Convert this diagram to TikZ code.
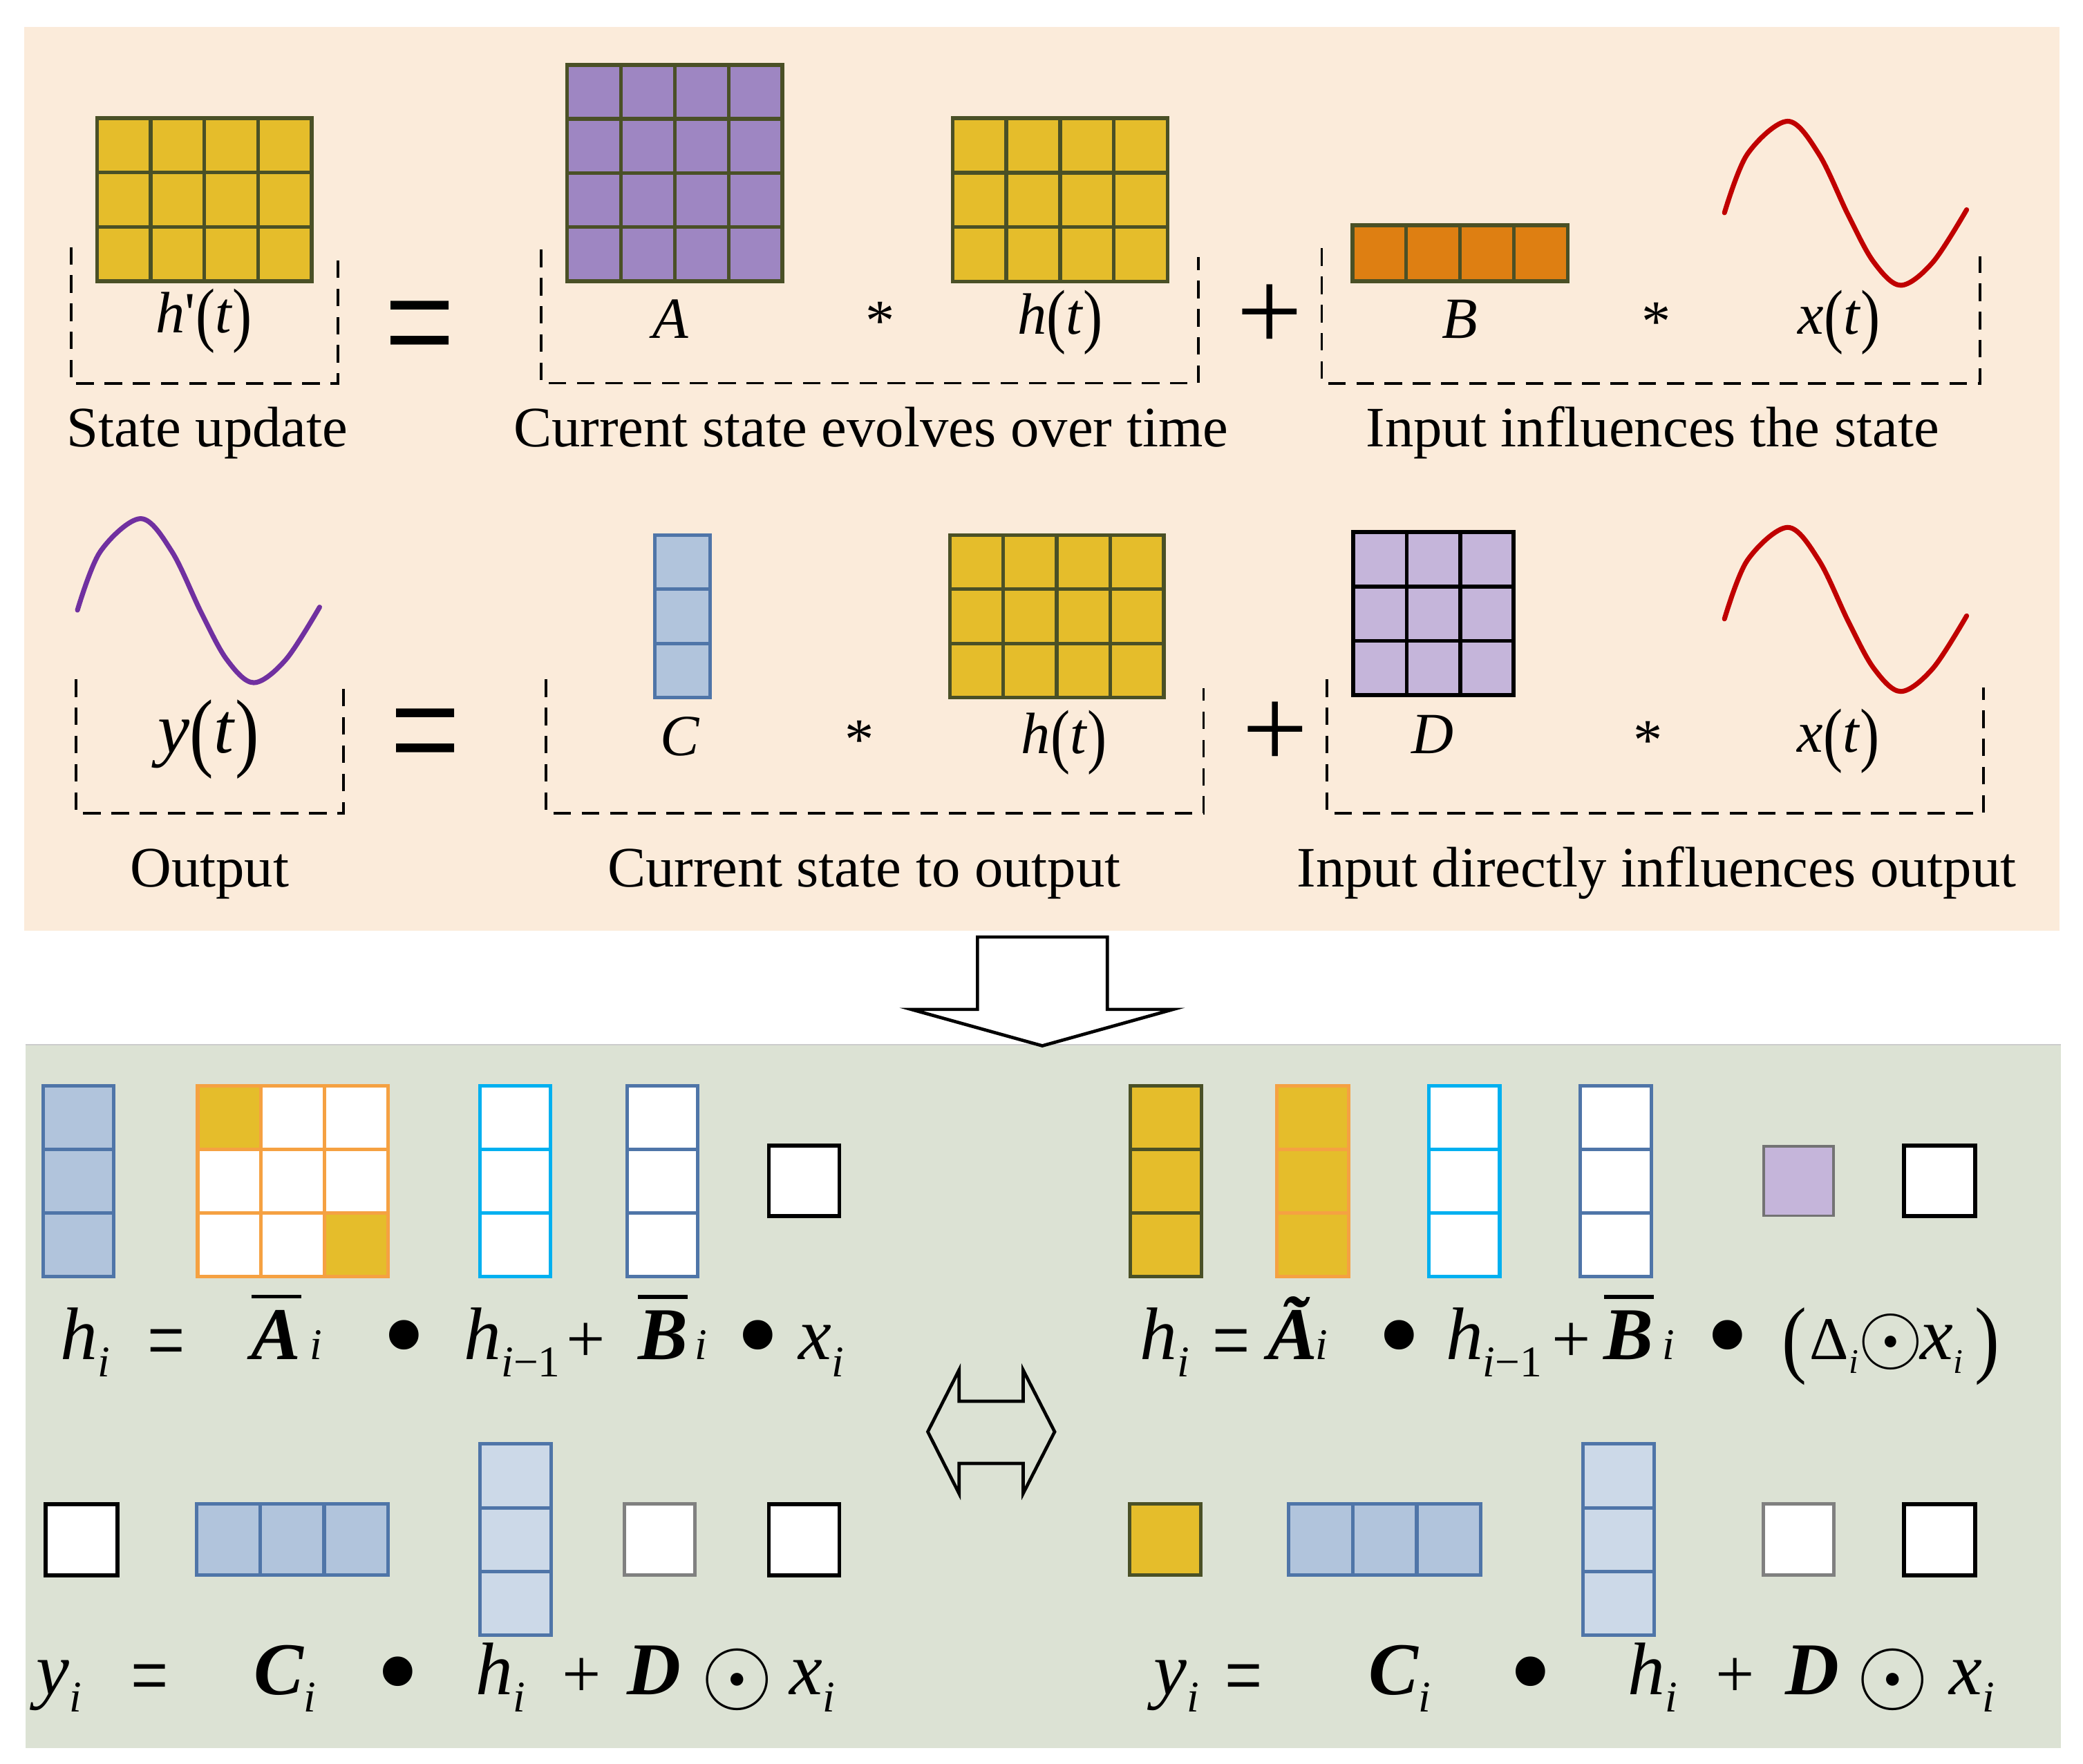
\documentclass[tikz,border=0pt]{standalone}
\usepackage{fontspec}
\setmainfont{Liberation Serif}
\usepackage{graphicx}
\definecolor{peach}{HTML}{FBEBDA}
\definecolor{sage}{HTML}{DCE2D4}
\definecolor{gold}{HTML}{E5BD2B}
\definecolor{olive}{HTML}{4A5026}
\definecolor{violetA}{HTML}{9E86C2}
\definecolor{orangeB}{HTML}{DE7F12}
\definecolor{steel}{HTML}{B1C4DC}
\definecolor{steeldk}{HTML}{4F75A8}
\definecolor{lavD}{HTML}{C5B5DA}
\definecolor{waveR}{HTML}{C00000}
\definecolor{waveP}{HTML}{7030A0}
\definecolor{amber}{HTML}{F5A142}
\definecolor{cyanB}{HTML}{00B0F0}
\definecolor{pale}{HTML}{CCD9E8}
\newcommand\fLab{\fontsize{24.5}{29}\selectfont}
\newcommand\fMath{\fontsize{25}{30}\selectfont}
\newcommand\fY{\fontsize{30.7}{36}\selectfont}
\newcommand\fEq{\fontsize{31.9}{38}\selectfont}
\newcommand\fSub{\fontsize{18.8}{22}\selectfont}
\newcommand\fTiny{\fontsize{14.8}{18}\selectfont}
\newcommand\LP{\raisebox{-0.1em}{\scalebox{1}[1.22]{(}}}
\newcommand\RP{\raisebox{-0.1em}{\scalebox{1}[1.22]{)}}}
\newcommand\lo[1]{\raisebox{-7.4pt}{\fSub\itshape #1}}
\newcommand\ovbar[1]{\leavevmode\vbox{\hrule height 1.6pt\kern 5pt\hbox{#1}}}
\newcommand\bi[1]{{\bfseries\itshape #1}}
\newcommand\circdotsym{\makebox[0.6cm][c]{\scalebox{1.6}{$\odot$}}}
\newcommand\circdotsm{\makebox[0.52cm][c]{\scalebox{1.45}{$\odot$}}}
% grid: x0 y0 w h cols rows fillopts drawcolor linewidth
\newcommand\gridbox[9]{%
  \path[#7] (#1,#2) rectangle ++(#3,#4);
  \foreach \i in {1,...,#5}{\foreach \j in {1,...,#6}{%
    \draw[#8,line width=#9] ({#1+(\i-1)*#3/#5},{#2+(\j-1)*#4/#6}) rectangle ++({#3/#5},{#4/#6});}}}
\tikzset{
  lab/.style={anchor=base,inner sep=0pt,font=\fLab},
  mth/.style={anchor=base,inner sep=0pt,font=\fMath},
  eqp/.style={anchor=base west,inner sep=0pt,font=\fEq},
  dotop/.style={anchor=base,inner sep=0pt,font=\fontsize{53}{56}\selectfont},
  plusop/.style={anchor=base,inner sep=0pt,font=\fontsize{29.6}{34}\selectfont},
  eqop/.style={anchor=base,inner sep=0pt,font=\fontsize{28.5}{32}\selectfont},
  odot/.style={anchor=base,inner sep=0pt,font=\fontsize{26.5}{30}\selectfont},
  brk/.style={line width=1.1pt,dash pattern=on 7.5pt off 4.6pt},
  blk/.style={draw=black,fill=white,line width=1.7pt},
  bigarrow/.style={draw=black,line width=1.4pt,line join=miter},
  wave/.pic={\draw[line width=2.1pt,line cap=round,pic actions] plot[smooth,tension=0.55] coordinates {(0,0) (17.2,-44.1) (47.6,-68.9) (71.1,-44.1) (93.4,2.3) (112.4,37.2) (132.7,54.6) (156.9,37.2) (182.3,-2.3)};}
}
\begin{document}
\begin{tikzpicture}[x=0.02cm,y=-0.02cm]
\useasboundingbox (0,0) rectangle (1568,1328);
\fill[white] (0,0) rectangle (1568,1328);
% panels
\fill[peach] (18.2,20.5) rectangle (1550.2,701);
\fill[sage] (19.4,786.7) rectangle (1551.4,1316);
\draw[gray!40,line width=0.6pt] (19.4,786.7) -- (1551.4,786.7);

% ---------- top panel, row 1 ----------
\gridbox{73}{89}{161.7}{122.8}{4}{3}{fill=gold}{olive}{1.6pt}
\gridbox{427}{48.8}{162}{163}{4}{4}{fill=violetA}{olive}{1.6pt}
\gridbox{717}{89}{162}{123}{4}{3}{fill=gold}{olive}{1.6pt}
\gridbox{1018}{169.5}{162}{42.3}{4}{1}{fill=orangeB}{olive}{1.6pt}
\pic[draw=waveR] at (1298.1,160.2) {wave};

\draw[brk] (53.7,186) -- (53.7,288.6) -- (254.4,288.6) -- (254.4,193);
\draw[brk] (407.2,188) -- (407.2,288.4) -- (902,288.4) -- (902,193.5);
\draw[brk] (995,187) -- (995,288.6) -- (1490.5,288.6) -- (1490.5,193);

\node[mth] (mhp) at (153.5,250.5) {\textit{h}\textquotesingle\LP\textit{t}\RP};
\node[anchor=base,inner sep=0pt,font=\fontsize{53.5}{60}\selectfont] (eq1) at (316,287) {\scalebox{1}[1.4]{=}};
\node[mth] (mA) at (505,254.5) {\textit{A}};
\node[mth] (st1) at (662.5,256) {*};
\node[mth] (mh1) at (798,251.3) {\textit{h}\LP\textit{t}\RP};
\node[anchor=base,inner sep=0pt,font=\fontsize{50.1}{56}\selectfont] (pl1) at (956,264) {+};
\node[mth] (mB) at (1099,254.5) {\textit{B}};
\node[mth] (st2) at (1246.7,256.5) {*};
\node[mth] (mx1) at (1384.5,251.3) {\textit{x}\LP\textit{t}\RP};

\node[lab] (lu) at (156,336.5) {State update};
\node[lab] (le) at (655.5,336.5) {Current state evolves over time};
\node[lab] (li) at (1244,336.5) {Input influences the state};

% ---------- top panel, row 2 ----------
\pic[draw=waveP] at (58.3,459.4) {wave};
\gridbox{492.8}{402.8}{41.6}{122.5}{1}{3}{fill=steel}{steeldk}{1.5pt}
\gridbox{715}{402.8}{161}{122.5}{4}{3}{fill=gold}{olive}{1.6pt}
\gridbox{1018.7}{400.6}{120.7}{122.8}{3}{3}{fill=lavD}{black}{1.7pt}
\pic[draw=waveR] at (1298.1,466) {wave};

\draw[brk] (57.3,511.5) -- (57.3,612.5) -- (258.4,612.5) -- (258.4,517.4);
\draw[brk] (411,511.6) -- (411,612.3) -- (906,612.3) -- (906,518);
\draw[brk] (999,511.5) -- (999,612.3) -- (1493,612.3) -- (1493,517.8);

\node[mth,font=\fY] (my) at (157,567) {\textit{y}\LP\textit{t}\RP};
\node[anchor=base,inner sep=0pt,font=\fontsize{53.5}{60}\selectfont] (eq2) at (320,594) {\scalebox{1}[1.4]{=}};
\node[mth] (mC) at (511.7,569) {\textit{C}};
\node[mth] (st3) at (647,571.5) {*};
\node[mth] (mh2) at (801,567.4) {\textit{h}\LP\textit{t}\RP};
\node[anchor=base,inner sep=0pt,font=\fontsize{50.1}{56}\selectfont] (pl2) at (960,578) {+};
\node[mth] (mD) at (1078.4,567.4) {\textit{D}};
\node[mth] (st4) at (1240.3,571.8) {*};
\node[mth] (mx2) at (1384,566.5) {\textit{x}\LP\textit{t}\RP};

\node[lab] (lo) at (157.8,667.5) {Output};
\node[lab] (lc) at (650.5,667.5) {Current state to output};
\node[lab] (ld) at (1247,667.5) {Input directly influences output};

% ---------- arrows ----------
\draw[bigarrow,fill=white] (735.8,705.5) -- (833.5,705.5) -- (833.5,760) -- (883,760) -- (784.6,787.4) -- (686,760) -- (735.8,760) -- cycle;
\draw[bigarrow] (698.4,1078) -- (721.9,1031.6) -- (721.9,1055) -- (770.2,1055) -- (770.2,1031.6) -- (793.9,1078) -- (770.2,1124.4) -- (770.2,1101.8) -- (721.9,1101.8) -- (721.9,1124.4) -- cycle;

% ---------- bottom panel, left ----------
\gridbox{32.3}{817.5}{53.1}{143.5}{1}{3}{fill=steel}{steeldk}{1.5pt}
\fill[white] (148.8,817.5) rectangle ++(143.2,143.5);
\fill[gold] (148.8,817.5) rectangle ++(47.73,47.83);
\fill[gold] (244.27,913.17) rectangle ++(47.73,47.83);
\gridbox{148.8}{817.5}{143.2}{143.5}{3}{3}{fill=none}{amber}{1.5pt}
\gridbox{361.4}{817.5}{52.8}{143.5}{1}{3}{fill=white}{cyanB}{1.5pt}
\gridbox{472.3}{817.5}{52.8}{143.5}{1}{3}{fill=white}{steeldk}{1.5pt}
\draw[blk] (578.8,862.5) rectangle (631.8,915.5);

\node[eqp] (e1a) at (45,1023.4) {\textit{h}\lo{i}};
\node[eqop] (e1b) at (125,1031.8) {\scalebox{1}[1.35]{=}};
\node[eqp] (e1c) at (189,1023.4) {\ovbar{\bi{A}}};
\node[eqp,font=\fSub] (e1d) at (233,1023.4) {\textit{i}};
\node[dotop] (e1e) at (304,1036.2) {•};
\node[eqp] (e1f) at (349,1023.4) {\textit{h}\lo{i{\upshape −1}}};
\node[plusop] (e1g) at (441,1025.5) {+};
\node[eqp] (e1h) at (480,1023.4) {\ovbar{\bi{B}}};
\node[eqp,font=\fSub] (e1i) at (523,1023.4) {\textit{i}};
\node[dotop] (e1j) at (570.6,1036.2) {•};
\node[eqp] (e1k) at (601,1023.4) {\textit{x}\lo{i}};

\draw[blk] (34.5,1132.5) rectangle (88.4,1186);
\gridbox{148}{1132.5}{144}{53.5}{3}{1}{fill=steel}{steeldk}{1.5pt}
\gridbox{361.4}{1087.2}{53.6}{144}{1}{3}{fill=pale}{steeldk}{1.5pt}
\draw[draw=gray,fill=white,line width=1.5pt] (470,1132.5) rectangle (523.2,1186);
\draw[blk] (578.8,1132.5) rectangle (631.8,1186);

\node[eqp] (e2a) at (27,1276) {\textit{y}\lo{i}};
\node[eqop] (e2b) at (112.5,1284) {\scalebox{1}[1.35]{=}};
\node[eqp] (e2c) at (191,1276) {\bi{C}\lo{i}};
\node[dotop] (e2d) at (299.7,1289.5) {•};
\node[eqp] (e2e) at (358,1276) {\textit{h}\lo{i}};
\node[plusop] (e2f) at (437.7,1278) {+};
\node[eqp] (e2g) at (472,1276) {\bi{D}};
\node[odot] (e2h) at (555,1282.2) {\circdotsym};
\node[eqp] (e2i) at (594,1276) {\textit{x}\lo{i}};

% ---------- bottom panel, right ----------
\gridbox{850.6}{817.5}{53.8}{143.5}{1}{3}{fill=gold}{olive}{1.5pt}
\gridbox{961.2}{817.5}{54.2}{143.5}{1}{3}{fill=gold}{amber}{1.5pt}
\gridbox{1075.7}{817.5}{53.2}{143.5}{1}{3}{fill=white}{cyanB}{1.5pt}
\gridbox{1189.6}{817.5}{53.6}{143.5}{1}{3}{fill=white}{steeldk}{1.5pt}
\draw[draw=black!55,fill=lavD,line width=1pt] (1327.7,863) rectangle (1380.1,915.3);
\draw[blk] (1433.3,862.5) rectangle (1487,915.5);

\node[eqp] (e3a) at (858,1023.4) {\textit{h}\lo{i}};
\node[eqop] (e3b) at (927,1031.8) {\scalebox{1}[1.35]{=}};
\node[eqp] (e3c) at (954,1023.4) {\bi{Ã}};
\node[eqp,font=\fSub] (e3d) at (990,1023.4) {\textit{i}};
\node[dotop] (e3e) at (1053.2,1036.2) {•};
\node[eqp] (e3f) at (1088,1023.4) {\textit{h}\lo{i{\upshape −1}}};
\node[plusop] (e3g) at (1183,1025.5) {+};
\node[eqp] (e3h) at (1207,1023.4) {\ovbar{\bi{B}}};
\node[eqp,font=\fSub] (e3i) at (1251,1023.4) {\textit{i}};
\node[dotop] (e3j) at (1300.4,1036.2) {•};
\node[eqp] (e3k) at (1341,1023.4) {\raisebox{-3.2pt}{\scalebox{1}[1.15]{(}}};
\node[eqp,font=\fontsize{26}{30}\selectfont] (e3l) at (1362,1023.4) {Δ\raisebox{-6pt}{\fTiny\itshape i}};
\node[odot] (e3m) at (1423.5,1026.2) {\circdotsm};
\node[eqp] (e3n) at (1445,1023.4) {\textit{x}\raisebox{-6pt}{\fTiny\itshape i}};
\node[eqp] (e3o) at (1486,1023.4) {\raisebox{-3.2pt}{\scalebox{1}[1.15]{)}}};

\draw[draw=olive,fill=gold,line width=1.5pt] (850.5,1132.5) rectangle (903.8,1186);
\gridbox{969.8}{1132.5}{145}{53.5}{3}{1}{fill=steel}{steeldk}{1.5pt}
\gridbox{1191.8}{1087.2}{53.6}{144}{1}{3}{fill=pale}{steeldk}{1.5pt}
\draw[draw=gray,fill=white,line width=1.5pt] (1327.5,1132.5) rectangle (1380.2,1186);
\draw[blk] (1433.3,1132.5) rectangle (1487,1186);

\node[eqp] (e4a) at (868,1276) {\textit{y}\lo{i}};
\node[eqop] (e4b) at (936,1284) {\scalebox{1}[1.35]{=}};
\node[eqp] (e4c) at (1030,1276) {\bi{C}\lo{i}};
\node[dotop] (e4d) at (1152.4,1289.5) {•};
\node[eqp] (e4e) at (1225,1276) {\textit{h}\lo{i}};
\node[plusop] (e4f) at (1306,1278) {+};
\node[eqp] (e4g) at (1343.5,1276) {\bi{D}};
\node[odot] (e4h) at (1425,1282.2) {\circdotsym};
\node[eqp] (e4i) at (1467,1276) {\textit{x}\lo{i}};
\end{tikzpicture}
\end{document}
